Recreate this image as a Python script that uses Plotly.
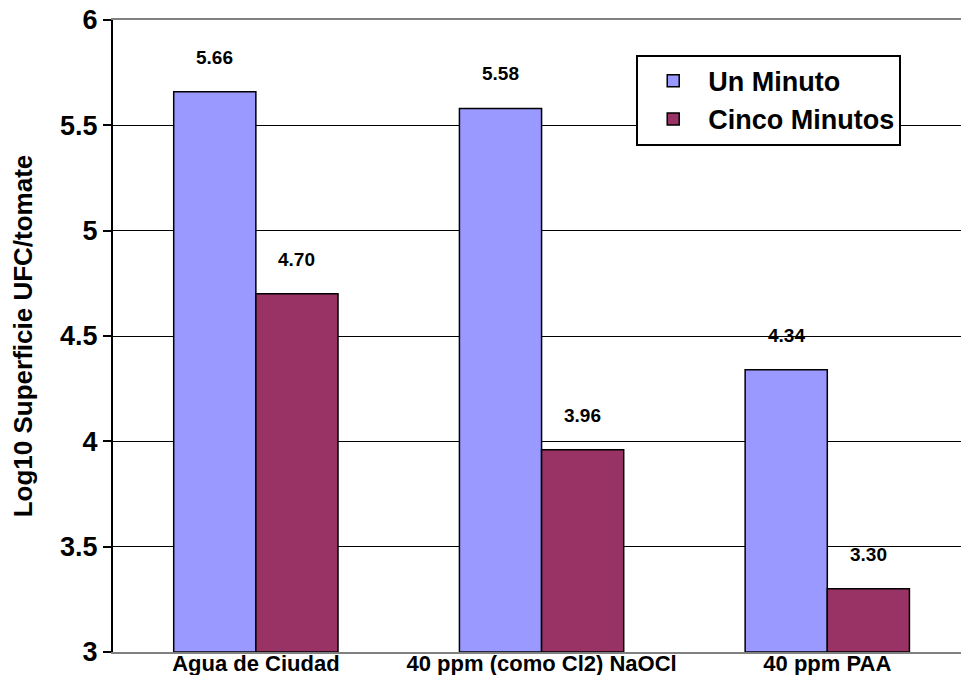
import plotly.graph_objects as go

categories = ["Agua de Ciudad", "40 ppm (como Cl2) NaOCl", "40 ppm PAA"]
un_minuto = [5.66, 5.58, 4.34]
cinco_minutos = [4.70, 3.96, 3.30]
series_names = ["Un Minuto", "Cinco Minutos"]
y_ticks = [3, 3.5, 4, 4.5, 5, 5.5, 6]
y_tick_text = ["3", "3.5", "4", "4.5", "5", "5.5", "6"]
y_floor = 3

FONT = "Liberation Sans, Arial, sans-serif"
BAR_PX = 82  # rendered width of one bar, used to centre the value labels

fig = go.Figure()
series = [
    (series_names[0], un_minuto, "#9999FF", -BAR_PX / 2),
    (series_names[1], cinco_minutos, "#993366", BAR_PX / 2),
]
for name, vals, color, shift in series:
    fig.add_trace(go.Bar(
        name=f"<b>{name}</b>",
        x=categories,
        y=[v - y_floor for v in vals],
        base=y_floor,
        marker=dict(color=color, line=dict(color="black", width=1.5)),
        customdata=vals,
        hovertemplate="%{x}: %{customdata:.2f}<extra>" + name + "</extra>",
    ))
    for cat, v in zip(categories, vals):
        fig.add_annotation(
            x=cat, y=v, xref="x", yref="y",
            text=f"<b>{v:.2f}</b>", showarrow=False,
            xshift=shift, yshift=22, yanchor="bottom",
            font=dict(family=FONT, size=19, color="black"),
        )

fig.update_layout(
    width=961, height=675,
    margin=dict(l=113, r=0, t=20, b=23),
    paper_bgcolor="white", plot_bgcolor="white",
    barmode="group", bargap=0.425, bargroupgap=0,
    showlegend=True,
    legend=dict(
        x=0.617, y=0.945, xanchor="left", yanchor="top",
        bordercolor="black", borderwidth=2, bgcolor="white",
        font=dict(family=FONT, size=27, color="black"),
        tracegroupgap=0, itemwidth=60,
    ),
    xaxis=dict(
        type="category",
        range=[-0.5, 2.468],
        tickvals=categories,
        ticktext=[f"<b>{c}</b>" for c in categories],
        showline=True, linecolor="#808080", linewidth=2, mirror=True,
        ticks="", showgrid=False,
        tickfont=dict(family=FONT, size=22, color="black"),
        ticklabelstandoff=-9,
        automargin=False,
    ),
    yaxis=dict(
        range=[3, 6],
        tickvals=y_ticks, ticktext=[f"<b>{t}</b>" for t in y_tick_text],
        tickfont=dict(family=FONT, size=27, color="black"),
        showline=True, linecolor="black", linewidth=2,
        ticks="outside", ticklen=8, tickcolor="black", tickwidth=2,
        showgrid=True, gridcolor="black", gridwidth=1,
        zeroline=False,
        automargin=False,
        title=dict(text="<b>Log10 Superficie UFC/tomate</b>",
                   font=dict(family=FONT, size=26, color="black"), standoff=20),
    ),
)

fig.write_html("out.html")
